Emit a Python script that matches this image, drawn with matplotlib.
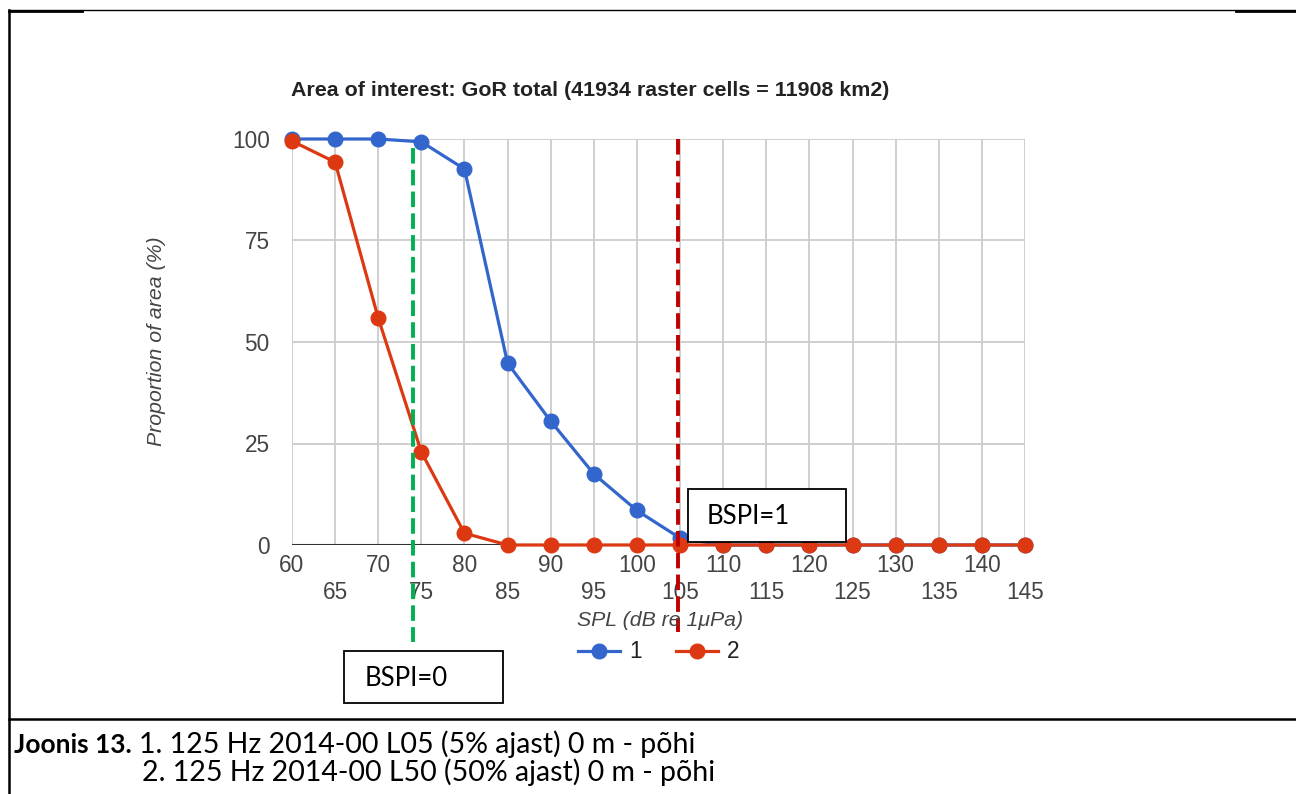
import matplotlib
matplotlib.use("Agg")
import matplotlib.pyplot as plt
from matplotlib.lines import Line2D
from matplotlib.patches import Rectangle

# ---------------- data ----------------
spl = [60, 65, 70, 75, 80, 85, 90, 95, 100, 105, 110, 115, 120, 125, 130, 135, 140, 145]
series1 = [100, 100, 100, 99.3, 92.6, 44.8, 30.5, 17.5, 8.5, 1.7, 0, 0, 0, 0, 0, 0, 0, 0]
series2 = [99.5, 94.3, 55.9, 22.9, 2.9, 0, 0, 0, 0, 0, 0, 0, 0, 0, 0, 0, 0, 0]
series_names = ["1", "2"]
y_ticks = [0, 25, 50, 75, 100]
bspi0_x = 74.0
bspi1_x = 104.8
title = "Area of interest: GoR total (41934 raster cells = 11908 km2)"
xlabel = "SPL (dB re 1\u03bcPa)"
ylabel = "Proportion of area (%)"
caption_bold = "Joonis 13."
caption_line1 = "1. 125 Hz 2014-00 L05 (5% ajast) 0 m - põhi"
caption_line2 = "2. 125 Hz 2014-00 L50 (50% ajast) 0 m - põhi"

W, H = 1296, 794
BLUE = "#3366cc"
RED = "#dc3912"

def fx(px):
    return px / W

def fy(py):
    return 1 - py / H

fig = plt.figure(figsize=(W / 100, H / 100), dpi=100)
fig.patch.set_facecolor("white")

ax_l, ax_r, ax_t, ax_b = 292, 1025, 139, 545
ax = fig.add_axes([fx(ax_l), fy(ax_b), (ax_r - ax_l) / W, (ax_b - ax_t) / H])
ax.set_xlim(spl[0], spl[-1])
ax.set_ylim(0, 100)
for s in ax.spines.values():
    s.set_visible(False)

# grid
for x in spl:
    ax.axvline(x, color="#cccccc", lw=1.3, zorder=1)
for y in y_ticks:
    if y != 0:
        ax.axhline(y, color="#cccccc", lw=1.3, zorder=1)
ax.axhline(0, color="#333333", lw=1.5, zorder=2)

ax.plot(spl, series1, color=BLUE, lw=2.3, marker="o", ms=10.5, zorder=3, label=series_names[0], clip_on=False)
ax.plot(spl, series2, color=RED, lw=2.3, marker="o", ms=10.5, zorder=4, label=series_names[1], clip_on=False)

TICK_FS = 16.3
ax.set_yticks(y_ticks)
ax.set_yticklabels([str(v) for v in y_ticks], fontsize=TICK_FS, color="#444444", family="Liberation Sans")
ax.set_xticks(spl)
xl = [str(v) if i % 2 == 0 else "\n" + str(v) for i, v in enumerate(spl)]
ax.set_xticklabels(xl, fontsize=TICK_FS, color="#444444", family="Liberation Sans", linespacing=1.24)
ax.tick_params(axis="both", length=0)
ax.tick_params(axis="y", pad=16)
ax.tick_params(axis="x", pad=6.5)

fig.text(fx(590), fy(91), title, ha="center", va="center", fontsize=15.4, fontweight="bold",
         color="#222222", family="Liberation Sans")
fig.text(fx(157), fy(341), ylabel, ha="center", va="center", rotation=90, fontsize=15.3,
         style="italic", color="#444444", family="Liberation Sans")
fig.text(fx(660), fy(621), xlabel, ha="center", va="center", fontsize=15.3,
         style="italic", color="#444444", family="Liberation Sans")

# legend (manual)
for (x0, col, name) in [(578, BLUE, series_names[0]), (676, RED, series_names[1])]:
    fig.add_artist(Line2D([fx(x0), fx(x0 + 42)], [fy(651), fy(651)], color=col, lw=2.3,
                          transform=fig.transFigure))
    fig.add_artist(Line2D([fx(x0 + 21)], [fy(651)], color=col, marker="o", ms=10.5,
                          transform=fig.transFigure))
    fig.text(fx(x0 + 51), fy(651), name, ha="left", va="center", fontsize=TICK_FS, color="#222222",
             family="Liberation Sans")

# threshold dashed lines
ax.plot([bspi0_x, bspi0_x], [97.8, -23.9], color="#00b050", lw=2.8, ls=(0, (4.0, 1.6)),
        clip_on=False, zorder=6)
ax.plot([bspi1_x, bspi1_x], [100, -21.4], color="#c00000", lw=2.8, ls=(0, (4.0, 1.6)),
        clip_on=False, zorder=6)

# BSPI boxes
def box(x0, y0, x1, y1, text, tx):
    fig.add_artist(Rectangle((fx(x0), fy(y1)), (x1 - x0) / W, (y1 - y0) / H, facecolor="white",
                             edgecolor="black", lw=1.3, transform=fig.transFigure, zorder=5))
    fig.text(fx(tx), fy((y0 + y1) / 2 + 1), text, ha="left", va="center", fontsize=18.5,
             color="black", family="Lato", zorder=6)

box(688, 489, 846, 542, "BSPI=1", 707)
box(344, 651, 503, 703, "BSPI=0", 365)

# document table borders
fig.add_artist(Line2D([fx(9), fx(1296)], [fy(10), fy(10)], color="black", lw=1.0, transform=fig.transFigure))
fig.add_artist(Line2D([fx(9), fx(82)], [fy(10.5), fy(10.5)], color="black", lw=2.0, transform=fig.transFigure))
fig.add_artist(Line2D([fx(1236), fx(1296)], [fy(10.5), fy(10.5)], color="black", lw=2.0, transform=fig.transFigure))
fig.add_artist(Line2D([fx(9), fx(9)], [fy(10), fy(794)], color="black", lw=1.8, transform=fig.transFigure))
fig.add_artist(Line2D([fx(9), fx(1296)], [fy(718.5), fy(718.5)], color="black", lw=1.8, transform=fig.transFigure))

# caption
CAP_FS = 20.5
tb = fig.text(fx(14), fy(753), caption_bold, ha="left", va="baseline", fontsize=19, fontweight="bold",
              color="black", family="Lato")
renderer = fig.canvas.get_renderer()
bx1 = tb.get_window_extent(renderer).x1
fig.text((bx1 + 7) / W, fy(753), caption_line1, ha="left", va="baseline", fontsize=CAP_FS,
         color="black", family="Lato")
fig.text(fx(142), fy(781), caption_line2, ha="left", va="baseline", fontsize=CAP_FS,
         color="black", family="Lato")

fig.savefig("out.png", dpi=100, facecolor="white")
